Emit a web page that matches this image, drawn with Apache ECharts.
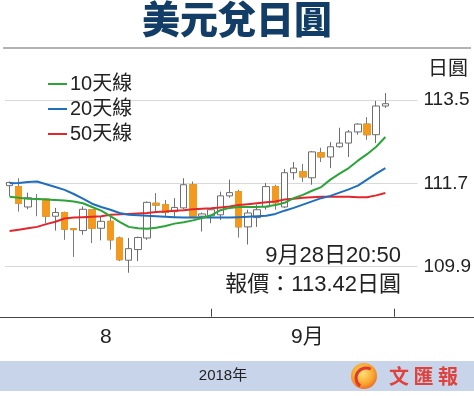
<!DOCTYPE html>
<html>
<head>
<meta charset="utf-8">
<script src="https://cdn.jsdelivr.net/npm/echarts@6/dist/echarts.min.js"></script>
<style>
html,body{margin:0;padding:0;background:#fff;}
#c{width:474px;height:396px;}
</style>
</head>
<body>
<div id="c"></div>
<script>
// ---- data ----
const categories = ['8/2','8/3','8/6','8/7','8/8','8/9','8/10','8/13','8/14','8/15','8/16','8/17','8/20','8/21','8/22','8/23','8/24','8/27','8/28','8/29','8/30','8/31',
  '9/3','9/4','9/5','9/6','9/7','9/10','9/11','9/12','9/13','9/14','9/17','9/18','9/19','9/20','9/21','9/24','9/25','9/26','9/27','9/28',
  '10/1','10/2','10/3'];
// [open, close, low, high]
const ohlc = [
  [111.65,111.72,111.42,111.74],[111.63,111.27,111.09,111.81],[111.19,111.39,111.14,111.50],[111.37,111.35,110.99,111.47],
  [111.36,110.99,110.84,111.38],[110.99,111.07,110.68,111.17],[111.07,110.71,110.48,111.09],[110.72,110.70,110.11,110.73],
  [110.68,111.14,110.59,111.20],[111.13,110.73,110.41,111.14],[110.73,110.88,110.47,110.99],[110.88,110.48,110.27,110.99],
  [110.52,110.05,110.02,110.55],[110.04,110.29,109.77,110.52],[110.27,110.53,110.02,110.55],[110.52,111.29,110.48,111.31],
  [111.27,111.23,111.06,111.49],[111.24,111.07,110.99,111.34],[111.09,111.18,110.95,111.38],[111.17,111.67,111.14,111.81],
  [111.67,110.96,110.95,111.74],[110.99,111.04,110.66,111.07],[111.00,111.13,110.84,111.17],[111.02,111.43,110.91,111.52],
  [111.43,111.50,111.39,111.78],[111.52,110.76,110.53,111.56],[110.76,111.06,110.38,111.13],[110.96,111.13,110.76,111.24],
  [111.19,111.63,111.13,111.71],[111.63,111.28,111.13,111.67],[111.19,111.93,111.17,112.01],[111.93,112.03,111.78,112.16],
  [111.95,111.84,111.73,112.12],[111.82,112.38,111.67,112.40],[112.36,112.27,112.16,112.47],[112.27,112.49,112.03,112.59],
  [112.49,112.57,112.47,112.90],[112.57,112.81,112.27,112.85],[112.81,112.98,112.75,113.00],[112.98,112.75,112.64,113.13],
  [112.75,113.37,112.57,113.48],[113.37,113.42,113.33,113.65]
];
const ma10 = [111.41,111.39,111.37,111.36,111.35,111.34,111.33,111.31,111.27,111.19,111.11,110.99,110.87,110.76,110.73,110.72,110.74,110.78,110.83,110.86,110.90,110.95,111.01,111.12,111.17,111.19,111.19,111.19,111.20,111.23,111.28,111.38,111.45,111.54,111.62,111.78,111.91,112.03,112.19,112.33,112.49,112.70];
const ma20 = [111.70,111.71,111.73,111.74,111.68,111.62,111.56,111.47,111.37,111.26,111.19,111.13,111.06,111.02,111.01,111.00,110.99,110.98,110.97,110.96,110.96,110.96,110.96,110.96,110.96,110.97,110.98,110.99,111.00,111.04,111.11,111.17,111.24,111.31,111.38,111.43,111.50,111.57,111.65,111.78,111.91,112.03];
const ma50 = [110.67,110.70,110.73,110.76,110.82,110.87,110.94,110.96,110.97,110.98,110.99,111.02,111.03,111.04,111.05,111.06,111.08,111.09,111.11,111.12,111.14,111.15,111.16,111.18,111.20,111.23,111.25,111.27,111.29,111.31,111.35,111.37,111.39,111.40,111.41,111.41,111.41,111.41,111.40,111.40,111.44,111.49];
const seriesNames = ['10天線','20天線','50天線'];
const yTickValues = [109.9, 111.7, 113.5];
const monthTickDates = ['9/3','10/1'];
const monthLabelDates = {'8/16':'8','9/17':'9月'};
const titleText = '美元兌日圓';
const unitText = '日圓';
const noteLines = ['9月28日20:50','報價：113.42日圓'];
const yearText = '2018年';

// ---- chart ----
const FONT = "'Liberation Sans','Noto Sans CJK TC',sans-serif";
const CJK = "'Noto Sans CJK TC','Noto Sans CJK SC',sans-serif";
const downBodies = ohlc.map(d => d[1] < d[0] ? [d[0], d[1], d[1], d[0]] : '-');
const chart = echarts.init(document.getElementById('c'), null, {renderer:'canvas'});
chart.setOption({
  animation:false,
  backgroundColor:'#fff',
  title:[
    {text:titleText,left:'center',top:0,padding:0,textStyle:{fontFamily:CJK,fontSize:38,fontWeight:900,color:'#123d66'}},
    {text:unitText,left:428,top:59,padding:0,textStyle:{fontFamily:FONT,fontSize:20,fontWeight:'normal',color:'#222'}},
    {text:noteLines[0],right:73,top:245,padding:0,textStyle:{fontFamily:FONT,fontSize:22,fontWeight:'normal',color:'#222'}},
    {text:noteLines[1],right:73,top:274,padding:0,textStyle:{fontFamily:FONT,fontSize:22,fontWeight:'normal',color:'#222'}},
    {text:yearText,left:223,textAlign:'center',top:368,padding:0,textStyle:{fontFamily:FONT,fontSize:15,fontWeight:'normal',color:'#222'}}
  ],
  legend:{
    data:seriesNames.map(n=>({name:n,icon:'rect'})),
    orient:'vertical',left:48,top:74,padding:0,itemGap:5,itemWidth:19,itemHeight:2,
    textStyle:{fontFamily:FONT,fontSize:20,lineHeight:20,color:'#222',padding:[0,0,0,-2]}
  },
  grid:[
    {left:5,right:51,top:100,bottom:129.3},
    {left:0,right:0,top:316,height:1}
  ],
  xAxis:[
    {type:'category',gridIndex:0,data:categories,boundaryGap:true,offset:50,
     axisLine:{show:false},
     axisTick:{show:true,inside:true,length:8,alignWithLabel:true,
       interval:(i,v)=>monthTickDates.indexOf(v)>=0,lineStyle:{color:'#444',width:1}},
     axisLabel:{interval:(i,v)=>v in monthLabelDates,formatter:v=>monthLabelDates[v]||'',
       margin:10,padding:[0,0,0,9],fontFamily:FONT,fontSize:21,color:'#222'},
     splitLine:{show:false}},
    {type:'value',gridIndex:1,min:0,max:1,
     axisLine:{show:true,lineStyle:{color:'#444',width:1.2}},
     axisTick:{show:false},axisLabel:{show:false},splitLine:{show:false}}
  ],
  yAxis:[
    {type:'value',gridIndex:0,position:'right',min:yTickValues[0],max:yTickValues[yTickValues.length-1],
     interval:yTickValues[1]-yTickValues[0],
     axisLine:{show:false},axisTick:{show:false},
     axisLabel:{margin:6,fontFamily:FONT,fontSize:19,color:'#222',formatter:v=>v.toFixed(1)},
     splitLine:{show:true,lineStyle:{color:'#d9d9d9',width:1}}},
    {type:'value',gridIndex:1,show:false}
  ],
  series:[
    {type:'candlestick',name:'USDJPY',data:ohlc,barWidth:7,clip:false,
     itemStyle:{color:'#ffffff',color0:'#f39a1e',borderColor:'#6e6e6e',borderColor0:'#7a7a7a',borderWidth:1}},
    {type:'candlestick',name:'down',data:downBodies,barWidth:7,clip:false,
     itemStyle:{color:'#f39a1e',color0:'#f39a1e',borderColor:'#f39a1e',borderColor0:'#f39a1e',borderWidth:1}},
    {type:'line',name:seriesNames[2],data:ma50,showSymbol:false,clip:false,color:'#e3262b',lineStyle:{width:2,color:'#e3262b'},z:3},
    {type:'line',name:seriesNames[1],data:ma20,showSymbol:false,clip:false,color:'#1f6fbe',lineStyle:{width:2,color:'#1f6fbe'},z:3},
    {type:'line',name:seriesNames[0],data:ma10,showSymbol:false,clip:false,color:'#2ba43a',lineStyle:{width:2,color:'#2ba43a'},z:3}
  ],
  graphic:[
    {type:'line',shape:{x1:3,y1:48,x2:471,y2:48},style:{stroke:'#9a9a9a',lineWidth:1.5},silent:true},
    {type:'rect',shape:{x:0,y:361,width:474,height:30},style:{fill:'#c8d4ea'},silent:true,z:-1},
    {type:'circle',shape:{cx:364,cy:376,r:13},style:{fill:new echarts.graphic.RadialGradient(0.45,0.4,0.7,[{offset:0,color:'#ffe27a'},{offset:0.6,color:'#f7a42a'},{offset:1,color:'#e8552d'}])},silent:true},
    {type:'arc',shape:{cx:366,cy:378,r:10,startAngle:2.2,endAngle:5.2},style:{stroke:'#e03a2f',lineWidth:3,fill:null},silent:true},
    {type:'text',x:389,y:376,style:{text:'文 匯 報',fill:'#e2413b',font:"bold 20px 'Noto Sans CJK TC',sans-serif",verticalAlign:'middle'},silent:true}
  ]
});
</script>
</body>
</html>
